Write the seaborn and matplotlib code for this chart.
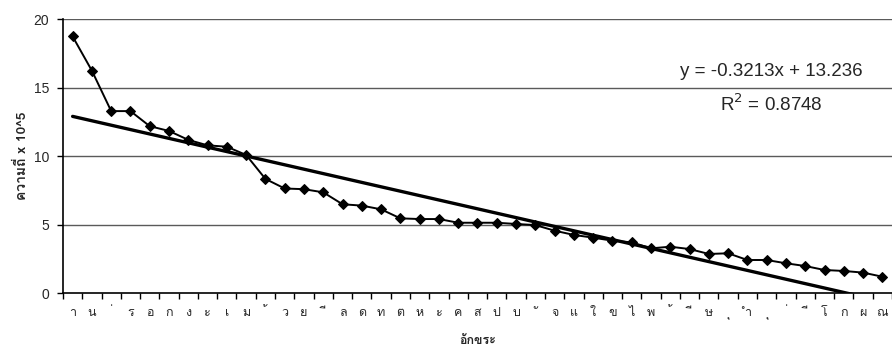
import numpy as np
import pandas as pd
import unicodedata
import matplotlib
matplotlib.use("Agg")
import matplotlib.pyplot as plt
from matplotlib import font_manager
from matplotlib.ticker import FixedLocator
import seaborn as sns

# ---- data ----
chars = ['า', 'น', '่', 'ร', 'อ', 'ก', 'ง', 'ะ', 'เ', 'ม', '้', 'ว', 'ย', 'ี', 'ล',
         'ด', 'ท', 'ต', 'ห', 'ะ', 'ค', 'ส', 'ป', 'บ', 'ั', 'จ', 'แ', 'ใ', 'ข', 'ไ',
         'พ', '้', 'ี', 'ษ', 'ุ', 'ำ', 'ุ', '่', 'ี', 'โ', 'ก', 'ผ', 'ณ']
freq = [18.75, 16.25, 13.3, 13.3, 12.2, 11.85, 11.2, 10.8, 10.7, 10.1, 8.35,
        7.65, 7.6, 7.37, 6.5, 6.4, 6.13, 5.47, 5.42, 5.42, 5.15, 5.15, 5.15,
        5.06, 4.98, 4.57, 4.26, 4.06, 3.84, 3.72, 3.28, 3.4, 3.23, 2.87, 2.92,
        2.43, 2.43, 2.19, 1.99, 1.70, 1.63, 1.51, 1.21]
trend_slope = -0.3213
trend_intercept = 13.236
r_squared = 0.8748
y_ticks = [0, 5, 10, 15, 20]

# ---- fonts: find one with Thai coverage ----
thai_family = None
try:
    from matplotlib.ft2font import FT2Font
    for f in font_manager.fontManager.ttflist:
        try:
            cm = FT2Font(f.fname).get_charmap()
            if 0x0E01 in cm and 0x0E32 in cm:
                thai_family = f.name
                break
        except Exception:
            continue
except Exception:
    pass

sns.set_theme(style="white")
base = ['Liberation Sans', 'DejaVu Sans']
fam = ([thai_family] if thai_family else []) + base
plt.rcParams['font.family'] = base

# combining marks get a blank base so that the label has a size
tick_texts = [(' ' + c) if unicodedata.combining(c) or unicodedata.category(c) == 'Mn' else c
              for c in chars]

df = pd.DataFrame({"pos": np.arange(1, len(freq) + 1), "freq": freq})

fig = plt.figure(figsize=(8.92, 3.52), dpi=100)
ax = fig.add_axes([0.0706, 0.1668, 0.9294, 0.9451 - 0.1668])

for v in y_ticks[1:]:
    ax.axhline(v, color='#5a5a5a', lw=1.0, zorder=0)

sns.lineplot(data=df, x="pos", y="freq", ax=ax, color='black', lw=1.4,
             marker='D', markersize=5.5, markeredgecolor='black', zorder=3)

xt = np.linspace(1, len(freq), 50)
ax.plot(xt, trend_slope * xt + trend_intercept, color='black', lw=2.4, zorder=4)

ax.set_xlim(0.5, len(freq) + 0.5)
ax.set_ylim(0, 20)
ax.set_yticks(y_ticks)
ax.set_yticklabels([str(t) for t in y_ticks], fontsize=10)
ax.set_xticks(df["pos"])
ax.set_xticklabels(tick_texts, fontsize=9, family=fam)
ax.xaxis.set_minor_locator(FixedLocator(np.arange(0.5, len(freq) + 1, 1)))
ax.tick_params(axis='x', which='major', length=0, pad=10)
ax.tick_params(axis='x', which='minor', length=4, width=1, color='black', direction='out', bottom=True)
ax.tick_params(axis='y', length=4, width=1, color='black', direction='out', left=True, pad=6)

for s in ['top', 'right']:
    ax.spines[s].set_visible(False)
for s in ['left', 'bottom']:
    ax.spines[s].set_color('black')
    ax.spines[s].set_linewidth(1.2)

ax.set_xlabel('อักขระ', fontsize=9, fontweight='bold', family=fam, labelpad=10)
ax.set_ylabel('ความถี่ x 10^5', fontsize=10, fontweight='bold', family=fam, labelpad=3)

fig.text(771 / 892, 1 - 72 / 352, f'y = {trend_slope}x + {trend_intercept}',
         ha='center', va='center', fontsize=13.5)
fig.text(771 / 892, 1 - 104 / 352, f'R$^2$ = {r_squared}',
         ha='center', va='center', fontsize=13.5)

fig.savefig('out.png', dpi=100)
